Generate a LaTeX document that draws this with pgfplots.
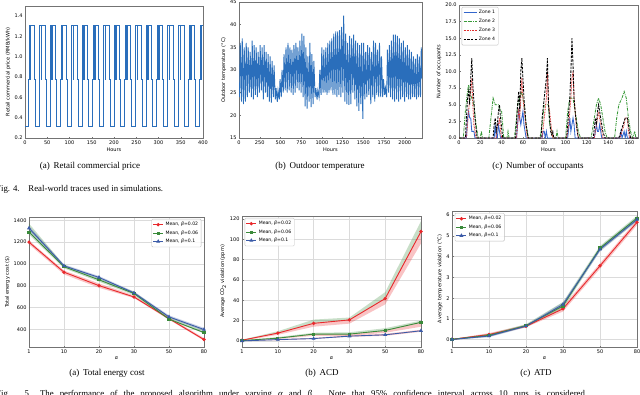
\documentclass[border=0pt]{standalone}
\usepackage{pgfplots}
\pgfplotsset{compat=1.18}
\usepackage{fontspec}
\setmainfont{Liberation Serif}
\newfontfamily\dv{DejaVu Sans}
\definecolor{cblue}{HTML}{2A6EBB}
\definecolor{zblue}{HTML}{3366CC}
\definecolor{zgreen}{HTML}{3A9A3A}
\definecolor{zred}{HTML}{E03030}
\definecolor{mred}{HTML}{E8282B}
\definecolor{mgreen}{HTML}{3A8A3A}
\definecolor{mblue}{HTML}{3B5BA8}
\newcommand{\tf}{\dv\fontsize{5}{6}\selectfont}
\newcommand{\lf}{\dv\fontsize{4.6}{5.2}\selectfont}
\pgfplotsset{
  base/.style={scale only axis, tick align=inside, tick pos=left,
    major tick length=1.5pt,
    axis line style={black!55, line width=0.5pt},
    every tick/.style={black!55, line width=0.4pt},
    tick label style={font=\tf},
    label style={font=\tf},
    /pgf/number format/assume math mode=true,
    /pgf/number format/1000 sep={},
    xticklabel style={yshift=1pt},
    xlabel style={yshift=3pt},
    ylabel style={yshift=-3pt},
    yticklabel style={xshift=1pt},
  },
  bot/.style={base, xmin=0, xmax=5, xtick={0,1,2,3,4,5},
    xticklabels={1,10,20,30,50,80}, xlabel={\textit{α}},
    grid=major, major grid style={black!14, line width=0.6pt},
    legend style={font=\lf, draw=black!25, rounded corners=1pt, inner sep=1pt,
      row sep=-0.6pt, fill=white, fill opacity=0.85, text opacity=1},
    legend image code/.code={\draw[mark repeat=2,mark phase=2,#1] plot coordinates {(0pt,0pt) (5pt,0pt) (10pt,0pt)};},
    legend cell align=left,
  },
  rl/.style={mred, line width=0.9pt, mark=*, mark size=1.2pt},
  gl/.style={mgreen, line width=0.9pt, mark=square*, mark size=1.1pt},
  bl/.style={mblue, line width=0.9pt, mark=triangle*, mark size=1.4pt},
  band/.style={draw=none, fill=#1, fill opacity=0.28, forget plot},
}
\begin{document}
\begin{tikzpicture}
\useasboundingbox (0,0) rectangle (640pt,-394pt);
\clip (0,0) rectangle (640pt,-394pt);

% ---------- (a) retail price
\begin{axis}[base, at={(25pt,-138pt)}, anchor=south west, width=178pt, height=132pt,
  xmin=0, xmax=400, ymin=0.2, ymax=1.5, xtick={0,50,...,400}, ytick={0.2,0.4,...,1.41},
  yticklabel style={/pgf/number format/.cd, fixed, fixed zerofill, precision=1},
  xlabel={Hours}, ylabel={Retail commercial price (RMB/kWh)}]
\addplot[const plot, cblue, line width=0.7pt] coordinates {
(0,0.31)(8,0.78)(9,1.31)(12,0.78)(13,1.31)(21,0.78)(23,0.31)
(32,0.78)(33,1.31)(36,0.78)(37,1.31)(45,0.78)(47,0.31)
(56,0.78)(57,1.31)(60,0.78)(61,1.31)(69,0.78)(71,0.31)
(80,0.78)(81,1.31)(84,0.78)(85,1.31)(93,0.78)(95,0.31)
(104,0.78)(105,1.31)(108,0.78)(109,1.31)(117,0.78)(119,0.31)
(128,0.78)(129,1.31)(132,0.78)(133,1.31)(141,0.78)(143,0.31)
(152,0.78)(153,1.31)(156,0.78)(157,1.31)(165,0.78)(167,0.31)
(176,0.78)(177,1.31)(180,0.78)(181,1.31)(189,0.78)(191,0.31)
(200,0.78)(201,1.31)(204,0.78)(205,1.31)(213,0.78)(215,0.31)
(224,0.78)(225,1.31)(228,0.78)(229,1.31)(237,0.78)(239,0.31)
(248,0.78)(249,1.31)(252,0.78)(253,1.31)(261,0.78)(263,0.31)
(272,0.78)(273,1.31)(276,0.78)(277,1.31)(285,0.78)(287,0.31)
(296,0.78)(297,1.31)(300,0.78)(301,1.31)(309,0.78)(311,0.31)
(320,0.78)(321,1.31)(324,0.78)(325,1.31)(333,0.78)(335,0.31)
(344,0.78)(345,1.31)(348,0.78)(349,1.31)(357,0.78)(359,0.31)
(368,0.78)(369,1.31)(372,0.78)(373,1.31)(381,0.78)(383,0.31)
(392,0.78)(393,1.31)(396,0.78)(397,1.31)(400,1.31)};
\end{axis}

% ---------- (b) outdoor temperature
\begin{axis}[base, at={(239pt,-138pt)}, anchor=south west, width=183pt, height=136pt,
  xmin=0, xmax=2208, ymin=15, ymax=45, xtick={0,250,...,2000}, ytick={15,20,...,45},
  xlabel={Hours}, ylabel={Outdoor temperature (°C)}]
\addplot[cblue, line width=0.9pt] coordinates {
(0,27)(6,24)(15,36)(30,23)(39,37)(54,22.5)(63,35)(78,23)(87,36)(102,24)(111,35)
(126,25)(135,34)(150,24)(159,36.5)(174,23.5)(183,35.5)(198,24.5)(207,35)(222,24)(231,34)
(246,25)(255,35.5)(270,25.5)(279,35)(294,23.5)(303,35.5)(318,25)(327,34)(342,24)(351,33.5)
(366,23)(375,33)(390,22.8)(399,32)(414,24)(423,31)(438,23.5)(447,26)(462,23)(471,25.5)
(486,23.5)(495,28)(510,24)(519,30)(534,25)(543,33.5)(558,25.5)(567,35)(582,25)(591,36)
(606,25.5)(615,35)(630,25)(639,34.5)(654,24.5)(663,35.5)(678,25)(687,36)(702,26)(711,35)
(726,25.5)(735,36.5)(750,25)(759,38)(774,24)(783,37.5)(798,22)(807,35)(822,21.5)(831,33)
(846,23)(855,36)(870,21.8)(879,33.5)(894,22.5)(903,32)(918,24)(927,26)(942,23.5)(951,25.5)
(966,24)(975,30)(990,24.5)(999,35)(1014,25)(1023,34.5)(1038,25)(1047,35)(1062,24.5)(1071,36)
(1086,25)(1095,36.5)(1110,25.5)(1119,37)(1134,24.5)(1143,38)(1158,24.5)(1167,38.5)(1182,24)(1191,38.5)
(1206,24.5)(1215,38.8)(1230,24)(1239,39.5)(1254,25)(1263,42)(1278,23)(1287,38)(1302,22.5)(1311,36)
(1326,22.3)(1335,37.5)(1350,22.5)(1359,37)(1374,25)(1383,37.8)(1398,23.5)(1407,36.5)(1422,22)(1431,36)
(1446,21)(1455,35.5)(1470,22.5)(1479,36)(1494,19.2)(1503,36)(1518,23.5)(1527,34)(1542,24)(1551,35.5)
(1566,24.5)(1575,35)(1590,22.5)(1599,34)(1614,24)(1623,36.5)(1638,23)(1647,36)(1662,24.5)(1671,34.5)
(1686,24)(1695,36)(1710,24)(1719,33)(1734,24)(1743,28)(1758,24.5)(1767,26)(1782,24)(1791,34.5)
(1806,25)(1815,35.5)(1830,24)(1839,36.5)(1854,23.5)(1863,37.8)(1878,23)(1887,37.8)(1902,23.5)(1911,37.5)
(1926,23)(1935,37)(1950,23.5)(1959,36)(1974,24)(1983,36.5)(1998,23)(2007,35)(2022,24)(2031,35.5)
(2046,23.5)(2055,34.5)(2070,23.5)(2079,34)(2094,24)(2103,33)(2118,24)(2127,32.5)(2142,23.5)(2151,33.5)
(2166,24)(2175,33)(2190,24)(2199,35)(2208,28)};
\end{axis}

% ---------- (c) occupants
\begin{axis}[base, at={(459pt,-138pt)}, anchor=south west, width=179pt, height=133pt,
  xmin=0, xmax=168, ymin=0, ymax=20, xtick={0,20,...,160}, ytick={0,2.5,...,20},
  yticklabel style={/pgf/number format/.cd, fixed, fixed zerofill, precision=1},
  xlabel={Hours}, ylabel={Number of occupants},
  legend style={font=\lf, at={(0.015,0.985)}, anchor=north west, draw=black!25, rounded corners=1pt,
    inner sep=1.2pt, row sep=0pt},
  legend cell align=left,
  legend image code/.code={\draw[#1] (0pt,0pt) -- (13pt,0pt);}]
\addplot[zblue, line width=0.85pt] coordinates {
(0,0)(7,0)(8,3)(9,4)(10,3)(11,3)(12,1)(14,1)(15,0)(33,0)(34,2)(35,0)(36,0)(37,2)(38,1)(39,0)
(54,0)(56,4)(57,3)(58,2)(59,3)(60,4)(61,2)(62,1)(63,0)(78,0)(79,1)(80,1)(81,0)(82,1)(83,0)
(102,0)(104,3)(105,1)(106,2)(107,3)(108,2)(109,0)(127,0)(129,2)(130,1)(131,1)(132,2)(133,1)(134,0)
(151,0)(152,1)(153,0)(155,1)(156,0)(157,1)(158,0)(168,0)};
\addlegendentry{Zone 1}
\addplot[zgreen, line width=0.85pt, dash pattern=on 3pt off 1pt on 0.8pt off 1pt] coordinates {
(0,0)(4,0)(6,4)(8,7)(9,8)(10,7)(12,6)(14,5)(16,2)(18,0)(20,0)(21,1)(22,0)(28,0)(30,3)(32,6)(34,5)
(37,5)(38,4.5)(40,4)(42,0)(45,0)(46,1)(47,0)(52,0)(54,3)(55,5)(57,6)(59,7)(61,5)(63,2)(65,0)
(76,0)(78,2)(80,5)(84,5)(85,2)(87,1)(88,0)(91,0)(92,1)(93,0)(100,0)(102,4)(104,6)(107,6)(108,5)
(110,3)(112,1)(114,0)(124,0)(127,3)(129,5)(131,6)(133,5)(135,3)(137,1)(139,0)(146,0)(148,3)
(150,5)(153,6)(155,7)(157,6)(159,3)(161,1)(163,0)(165,1)(166,0)(168,0)};
\addlegendentry{Zone 2}
\addplot[zred, line width=0.85pt, dash pattern=on 0.8pt off 0.8pt] coordinates {
(0,0)(7,0)(8,2)(9,4)(10,6)(11,7)(12,9)(13,5)(14,2)(16,0)(35,0)(36,2)(37,2)(38,3)(39,1)(40,0)
(54,0)(56,4)(57,3)(58,6)(59,9)(60,6)(62,3)(64,0)(78,0)(80,3)(82,6)(83,10)(84,5)(85,4)(87,1)(88,0)
(101,0)(103,2)(104,4)(105,6)(106,9)(107,10)(108,6)(110,2)(112,0)(127,0)(129,2)(130,3)(131,4)
(132,3)(133,2)(135,0)(151,0)(153,1)(155,2)(156,3)(158,3)(159,1)(160,0)(168,0)};
\addlegendentry{Zone 3}
\addplot[black, line width=0.85pt, dash pattern=on 2.5pt off 1.2pt] coordinates {
(0,0)(6,0)(8,6)(9,7)(10,5)(11,9)(12,12)(13,8)(15,3)(17,0)(32,0)(33,2)(34,3)(35,1)(36,2)(37,4)
(38,5)(39,3)(41,0)(53,0)(55,5)(56,7)(57,4)(58,10)(59,12)(60,9)(61,6)(63,2)(65,0)(77,0)(78,3)
(80,6)(82,9)(83,12)(84,5)(86,1)(87,0.5)(88,1)(89,0)(101,0)(103,4)(104,6)(105,10)(106,15)(107,11)
(108,6)(109,4)(111,1)(112,0)(126,0)(128,3)(129,2)(130,4)(131,5)(132,4)(133,3)(135,1)(137,0)
(150,0)(152,1)(154,2)(156,3)(158,3)(160,1)(161,0)(168,0)};
\addlegendentry{Zone 4}
\end{axis}

% ---------- (a) total energy cost
\begin{axis}[bot, at={(29pt,-347pt)}, anchor=south west, width=175pt, height=130pt,
  ymin=240, ymax=1430, ytick={400,600,...,1400}, ylabel={Total energy cost (\$)},
  legend style={at={(0.985,0.985)}, anchor=north east}]
\addplot[band=mred] coordinates {(0,1215)(1,940)(2,822)(3,712)(4,512)(5,322)(5,298)(4,490)(3,688)(2,782)(1,905)(0,1180)};
\addplot[band=mgreen] coordinates {(0,1370)(1,992)(2,870)(3,748)(4,515)(5,395)(5,365)(4,488)(3,715)(2,838)(1,960)(0,1270)};
\addplot[band=mblue] coordinates {(0,1348)(1,996)(2,890)(3,747)(4,530)(5,415)(5,388)(4,505)(3,724)(2,862)(1,972)(0,1305)};
\addplot[rl] coordinates {(0,1200)(1,925)(2,802)(3,698)(4,500)(5,308)};
\addlegendentry{Mean, \textit{β}=0.02}
\addplot[gl] coordinates {(0,1292)(1,975)(2,855)(3,730)(4,495)(5,372)};
\addlegendentry{Mean, \textit{β}=0.06}
\addplot[bl] coordinates {(0,1328)(1,983)(2,877)(3,735)(4,516)(5,400)};
\addlegendentry{Mean, \textit{β}=0.1}
\end{axis}

% ---------- (b) ACD
\begin{axis}[bot, at={(242pt,-347pt)}, anchor=south west, width=179pt, height=131pt,
  ymin=-6, ymax=123, ytick={0,20,...,120}, ylabel={Average CO\textsubscript{2} violation (ppm)},
  legend style={at={(0.015,0.985)}, anchor=north west}]
\addplot[band=mgreen] coordinates {(0,0.7)(1,7.7)(2,17.3)(3,20.7)(4,41.7)(5,107.7)(5,118)(4,48)(3,23)(2,21)(1,9.5)(0,1.2)};
\addplot[band=mred] coordinates {(0,0.7)(1,7.7)(2,17.3)(3,20.7)(4,41.7)(5,107.7)(5,96)(4,36)(3,17)(2,14)(1,6)(0,0)};
\addplot[band=mgreen] coordinates {(0,0.3)(1,2.7)(2,6.7)(3,6.7)(4,10.3)(5,18.3)(5,20)(4,12.5)(3,8.5)(2,8)(1,3.8)(0,0.6)};
\addplot[band=mred] coordinates {(0,0.3)(1,2.7)(2,6.7)(3,6.7)(4,10.3)(5,18.3)(5,14)(4,8)(3,5)(2,5)(1,2)(0,0)};
\addplot[band=mred] coordinates {(0,0.3)(1,1.6)(2,3)(3,5.5)(4,7)(5,11)(5,9)(4,5)(3,4)(2,2)(1,0.6)(0,0)};
\addplot[rl] coordinates {(0,0.7)(1,7.7)(2,17.3)(3,20.7)(4,41.7)(5,107.7)};
\addlegendentry{Mean, \textit{β}=0.02}
\addplot[gl] coordinates {(0,0.3)(1,2.7)(2,6.7)(3,6.7)(4,10.3)(5,18.3)};
\addlegendentry{Mean, \textit{β}=0.06}
\addplot[bl] coordinates {(0,0)(1,1.3)(2,2.3)(3,4.7)(4,6)(5,10)};
\addlegendentry{Mean, \textit{β}=0.1}
\end{axis}

% ---------- (c) ATD
\begin{axis}[bot, at={(452pt,-347pt)}, anchor=south west, width=185pt, height=136pt,
  ymin=-0.35, ymax=6.2, ytick={0,1,...,6}, ylabel={Average temperature violation (°C)},
  legend style={at={(0.015,0.985)}, anchor=north west}]
\addplot[band=mred] coordinates {(0,0.03)(1,0.32)(2,0.72)(3,1.62)(4,3.68)(5,5.78)(5,5.52)(4,3.42)(3,1.36)(2,0.6)(1,0.18)(0,0)};
\addplot[band=mgreen] coordinates {(0,0.03)(1,0.28)(2,0.75)(3,1.82)(4,4.52)(5,5.97)(5,5.72)(4,4.28)(3,1.5)(2,0.62)(1,0.14)(0,0)};
\addplot[band=mblue] coordinates {(0,0.03)(1,0.25)(2,0.71)(3,1.8)(4,4.45)(5,5.9)(5,5.7)(4,4.25)(3,1.6)(2,0.6)(1,0.12)(0,0)};
\addplot[rl] coordinates {(0,0.02)(1,0.25)(2,0.65)(3,1.49)(4,3.56)(5,5.66)};
\addlegendentry{Mean, \textit{β}=0.02}
\addplot[gl] coordinates {(0,0.02)(1,0.21)(2,0.68)(3,1.63)(4,4.42)(5,5.86)};
\addlegendentry{Mean, \textit{β}=0.06}
\addplot[bl] coordinates {(0,0.01)(1,0.18)(2,0.66)(3,1.7)(4,4.36)(5,5.79)};
\addlegendentry{Mean, \textit{β}=0.1}
\end{axis}

% ---------- captions
\node[font=\fontsize{9}{10}\selectfont, anchor=base] at (90pt,-168pt) {(a)\, Retail commercial price};
\node[font=\fontsize{9}{10}\selectfont, anchor=base] at (320pt,-168pt) {(b)\, Outdoor temperature};
\node[font=\fontsize{9}{10}\selectfont, anchor=base] at (538pt,-168pt) {(c)\, Number of occupants};
\node[font=\fontsize{8.8}{10}\selectfont, anchor=base west, inner sep=0pt] at (-4pt,-191pt) {Fig. 4.\quad Real-world traces used in simulations.};
\node[font=\fontsize{9}{10}\selectfont, anchor=base] at (107pt,-375pt) {(a)\, Total energy cost};
\node[font=\fontsize{9}{10}\selectfont, anchor=base] at (322pt,-375pt) {(b)\, ACD};
\node[font=\fontsize{9}{10}\selectfont, anchor=base] at (536pt,-375pt) {(c)\, ATD};
\node[font=\fontsize{8.8}{10}\selectfont, anchor=base west, inner sep=0pt] at (-4pt,-396.5pt) {\makebox[591pt][s]{Fig. 5.\quad The performance of the proposed algorithm under varying \textit{α} and \textit{β}. Note that 95\% confidence interval across 10 runs is considered.}};
\end{tikzpicture}
\end{document}
